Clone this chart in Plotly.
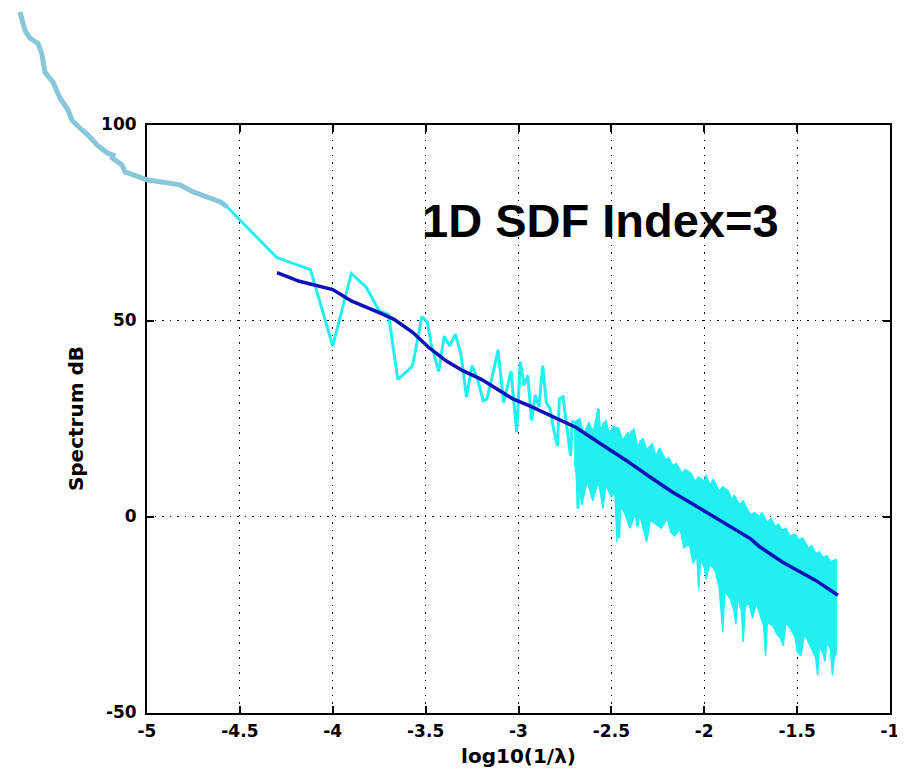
import plotly.graph_objects as go

# ---- data ----
# cyan spectrum, sparse part (individual zigzags visible)
spec_x = [-4.60, -4.30, -4.12, -4.00, -3.90, -3.82, -3.75, -3.70, -3.65, -3.60,
          -3.57, -3.52, -3.49, -3.47, -3.43, -3.40, -3.37, -3.34, -3.31, -3.28,
          -3.25, -3.22, -3.19, -3.17, -3.14, -3.11, -3.08, -3.06, -3.04, -3.01,
          -2.99, -2.97, -2.95, -2.93, -2.91, -2.89, -2.87, -2.85, -2.83, -2.81,
          -2.79, -2.78, -2.76, -2.74, -2.72, -2.71, -2.69, -2.68, -2.67, -2.65,
          -2.63, -2.61, -2.59, -2.57, -2.56, -2.54, -2.52, -2.50, -2.48, -2.47,
          -2.46, -2.45, -2.43, -2.41, -2.39, -2.37, -2.36, -2.34]
spec_y = [80.5, 66.0, 63.0, 43.5, 62.0, 58.5, 52.5, 51.5, 35.0, 37.0,
          38.5, 51.0, 49.5, 44.0, 37.0, 46.0, 43.5, 46.5, 41.5, 30.5,
          38.5, 35.0, 29.5, 30.0, 36.0, 42.5, 29.0, 33.0, 37.0, 21.5,
          39.5, 33.5, 36.0, 24.5, 31.0, 28.0, 38.5, 29.0, 27.5, 22.0,
          18.0, 30.0, 30.5, 23.0, 15.5, 24.5, 22.0, 2.0, 24.5, 16.0,
          11.0, 22.5, 19.5, 27.5, 8.0, 24.0, 10.0, 22.0, 12.0, 1.0,
          -5.5, 14.0, 16.5, 8.0, 22.0, 4.0, -2.5, 19.5]

# cyan spectrum, dense part: upper and lower envelope of the band
band_hi_x = [-2.70, -2.67, -2.65, -2.62, -2.60, -2.57, -2.56, -2.53, -2.51, -2.49,
             -2.46, -2.44, -2.41, -2.39, -2.38, -2.36, -2.33, -2.31, -2.28, -2.26,
             -2.24, -2.21, -2.19, -2.17, -2.15, -2.12, -2.10, -2.07, -2.05, -2.03,
             -2.00, -1.99, -1.97, -1.95, -1.92, -1.90, -1.87, -1.85, -1.84, -1.81,
             -1.79, -1.77, -1.75, -1.73, -1.70, -1.69, -1.66, -1.64, -1.62, -1.60,
             -1.58, -1.56, -1.54, -1.51, -1.49, -1.47, -1.44, -1.42, -1.40, -1.38,
             -1.36, -1.34, -1.32, -1.29]
band_hi_y = [24, 25, 21, 24, 21, 27.5, 22, 24.5, 21, 23,
             22.5, 19.5, 21.5, 19, 22.5, 18, 20, 17, 18.5, 15.5,
             17.5, 14.5, 15, 13, 13.5, 11, 12, 11, 9, 10,
             9, 10.5, 8, 9.5, 6.5, 7.5, 6.5, 4, 5.5, 3,
             4, 2, 0.5, 1, 0, 1, -1.5, -0.5, -2.5, -2,
             -3.5, -3, -5, -4.5, -6, -5.5, -8, -7.5, -9.5, -9,
             -10.5, -10, -11.5, -11]
band_lo_x = [-2.70, -2.66, -2.63, -2.60, -2.57, -2.545, -2.53, -2.50, -2.48, -2.47,
             -2.46, -2.43, -2.40, -2.37, -2.34, -2.31, -2.29, -2.26, -2.23, -2.20,
             -2.18, -2.16, -2.13, -2.11, -2.08, -2.06, -2.04, -2.03, -2.02, -2.00,
             -1.99, -1.97, -1.94, -1.92, -1.90, -1.89, -1.86, -1.84, -1.83, -1.82,
             -1.80, -1.79, -1.78, -1.76, -1.74, -1.72, -1.70, -1.68, -1.67, -1.66,
             -1.63, -1.61, -1.59, -1.575, -1.56, -1.53, -1.51, -1.50, -1.48, -1.46,
             -1.44, -1.42, -1.40, -1.39, -1.38, -1.36, -1.35, -1.34, -1.32, -1.31,
             -1.30, -1.29]
band_lo_y = [14, 3, 9, 4, 9, 2, 8, 5, 6, -6.5,
             3, 1, -3, 1, -1, -6.5, -1, -2, -3, -0.5,
             -4, -5, -3, -8, -7, -12, -10, -18.5, -11, -13,
             -16, -12, -14, -18, -29.5, -19, -21, -24, -27.5, -21,
             -24, -32, -23, -22, -26, -22, -25, -28, -35.5, -27,
             -28, -30, -31, -33, -27, -29, -31, -34.5, -35.5, -30,
             -32, -34, -36, -40.5, -33, -35, -37, -32, -34, -40.5,
             -36, -35]

# dark blue smoothed trend
trend_x = [-4.30, -4.18, -4.00, -3.90, -3.75, -3.67, -3.57, -3.48, -3.39, -3.30,
           -3.20, -3.11, -3.03, -2.94, -2.82, -2.69, -2.55, -2.42, -2.29, -2.17,
           -2.08, -1.99, -1.85, -1.75, -1.70, -1.58, -1.40, -1.28]
trend_y = [62.2, 60.0, 57.9, 55.0, 52.0, 50.3, 47.0, 43.0, 39.7, 37.2,
           35.0, 32.3, 30.0, 28.2, 25.5, 22.7, 18.3, 14.3, 10.0, 6.2,
           3.7, 1.1, -3.0, -5.7, -7.8, -11.6, -16.3, -20.1]

# hand-drawn extension running out of the axes (same data units)
hand_x = [-5.684, -5.657, -5.630, -5.587, -5.567, -5.549, -5.506, -5.468, -5.425, -5.404,
          -5.361, -5.318, -5.269, -5.215, -5.183, -5.188, -5.135, -5.118, -5.000, -4.892,
          -4.822, -4.752, -4.677, -4.607, -4.569]
hand_y = [128.7, 124.0, 122.0, 120.7, 118.2, 113.3, 110.8, 106.7, 103.7, 101.1,
          99.1, 97.3, 94.8, 92.8, 92.2, 91.5, 89.7, 87.9, 85.9, 85.1,
          84.6, 82.8, 81.6, 80.3, 79.0]

x_ticks = [-5, -4.5, -4, -3.5, -3, -2.5, -2, -1.5, -1]
x_tick_text = ['-5', '-4.5', '-4', '-3.5', '-3', '-2.5', '-2', '-1.5', '-1']
y_ticks = [-50, 0, 50, 100]
y_tick_text = ['-50', '0', '50', '100']

# ---- layout constants (pixels, figure coords; page adds an 8px body margin) ----
W, H = 895, 760
PX_L, PX_R = 139, 882       # x=-5 .. x=-1
PX_T, PX_B = 116.5, 704.5   # y=100 .. y=-50
XMIN, XMAX, YMIN, YMAX = -5, -1, -50, 100

CYAN = '#22f0f0'
BLUE = '#1010b8'
HAND = '#88c6d9'

sx = (PX_R - PX_L) / (XMAX - XMIN)
sy = (PX_B - PX_T) / (YMAX - YMIN)
x2_range = [XMIN - PX_L / sx, XMAX + (W - PX_R) / sx]
y2_range = [YMIN - (H - PX_B) / sy, YMAX + PX_T / sy]

fig = go.Figure()

fig.add_trace(go.Scatter(x=spec_x, y=spec_y, mode='lines',
                         line=dict(color=CYAN, width=3), xaxis='x', yaxis='y'))
fig.add_trace(go.Scatter(x=band_hi_x + band_lo_x[::-1], y=band_hi_y + band_lo_y[::-1],
                         mode='lines', fill='toself', fillcolor=CYAN,
                         line=dict(color=CYAN, width=1.5), xaxis='x', yaxis='y'))
fig.add_trace(go.Scatter(x=trend_x, y=trend_y, mode='lines',
                         line=dict(color=BLUE, width=3.5), xaxis='x', yaxis='y'))
fig.add_trace(go.Scatter(x=hand_x, y=hand_y, mode='lines',
                         line=dict(color=HAND, width=5),
                         xaxis='x2', yaxis='y2'))

tick_font = dict(family='DejaVu Sans', size=17, color='black', weight='bold')
title_font = dict(family='DejaVu Sans', size=20, color='black', weight='bold')

common = dict(showline=True, linecolor='black', linewidth=2, mirror='ticks',
              ticks='inside', ticklen=7, tickwidth=1.5, tickcolor='black',
              showgrid=True, gridcolor='black', gridwidth=1, griddash='1.5px,6px',
              zeroline=False, tickfont=tick_font, automargin=False,
              ticklabeloverflow='allow')

fig.update_layout(
    width=W, height=H,
    margin=dict(l=0, r=0, t=0, b=0),
    paper_bgcolor='white', plot_bgcolor='rgba(0,0,0,0)',
    showlegend=False,
    xaxis=dict(domain=[PX_L / W, PX_R / W], range=[XMIN, XMAX], anchor='y',
               tickvals=x_ticks, ticktext=x_tick_text, ticklabelstandoff=2,
               title=dict(text='log10(1/λ)', font=title_font, standoff=33),
               **common),
    yaxis=dict(domain=[1 - PX_B / H, 1 - PX_T / H], range=[YMIN, YMAX], anchor='x',
               tickvals=y_ticks, ticktext=y_tick_text, ticklabelstandoff=5,
               title=dict(text='Spectrum dB', font=title_font, standoff=12),
               **common),
    xaxis2=dict(domain=[0, 1], range=x2_range, anchor='y2', visible=False),
    yaxis2=dict(domain=[0, 1], range=y2_range, anchor='x2', visible=False),
    annotations=[dict(x=-2.56, y=75.5, xref='x', yref='y', text='1D SDF Index=3',
                      showarrow=False,
                      font=dict(family='Liberation Sans', size=47, color='black',
                                weight='bold'))],
)

fig.write_html('out.html')
